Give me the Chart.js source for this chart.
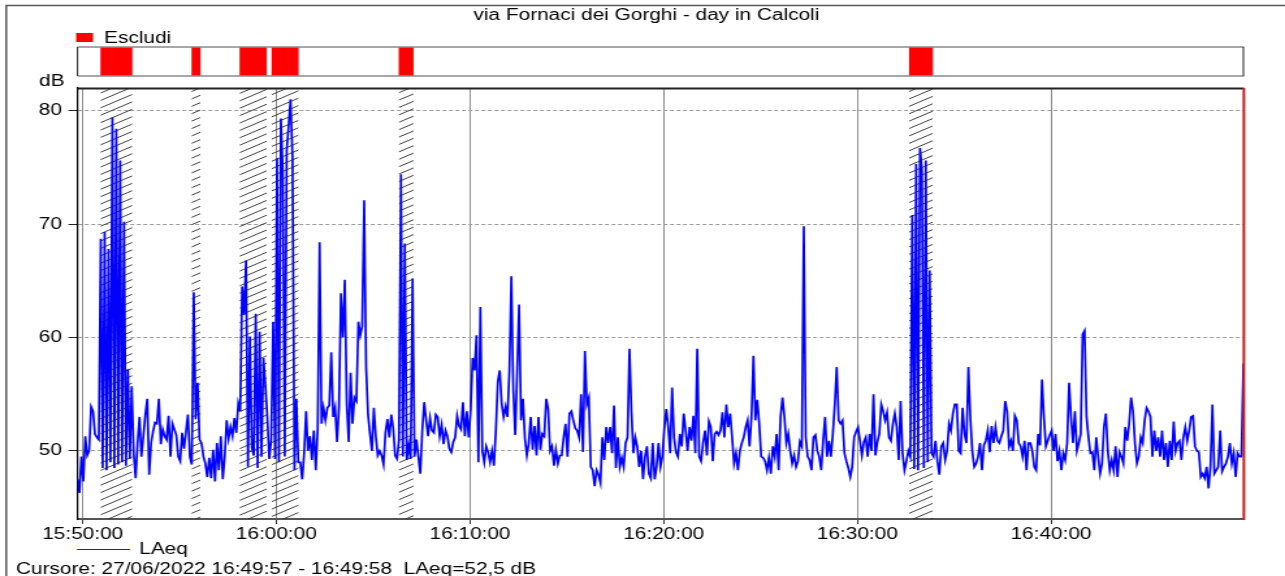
<!DOCTYPE html>
<html>
<head>
<meta charset="utf-8">
<script src="https://cdn.jsdelivr.net/npm/chart.js@4"></script>
<style>
  html, body { margin: 0; padding: 0; background: #fff; overflow: hidden; }
  canvas { display: block; }
</style>
</head>
<body>
<!-- drawn at 988 px and shown at 1285 px, like the wide export of the meter software -->
<canvas id="chart" width="988" height="576" style="width:1285px;height:576px"></canvas>
<script>
// LAeq, one sample every 6 s starting at startTime
const startTime = '15:49:44';
const endTime = '16:49:58';
const stepSeconds = 6;
const laeq = [
  47.5, 46.3, 49.5, 47.3, 51.3, 49.6, 50.0, 53.9, 53.5, 51.5, 51.2, 51.0,
  68.7, 48.5, 69.3, 48.3, 67.8, 49.0, 79.4, 48.5, 78.4, 48.8, 75.6, 49.0, 70.2, 48.7, 57.2, 49.3, 55.7,
  49.8, 47.6, 50.7, 53.0, 49.5, 51.3, 53.2, 54.6, 47.9, 50.7, 51.7, 52.5, 52.4, 54.6, 50.6,
  51.9, 51.3, 51.0, 53.1, 49.5, 52.4, 51.9, 51.4, 49.5, 49.1, 51.6, 50.2, 51.7, 53.2, 49.5,
  48.8, 64.0, 52.8, 56.0, 51.0,
  50.7, 49.5, 48.9, 47.7, 49.4, 47.6, 50.1, 47.3, 50.7, 48.3, 51.3, 47.5, 49.5, 52.7, 51.1, 52.1, 51.3, 52.9, 51.6, 54.2,
  53.5, 64.5, 62.0, 66.8, 48.6, 60.1, 50.3, 49.6, 62.1, 48.5, 60.5, 49.5, 58.2, 55.8,
  53.0, 49.3,
  51.0, 61.4, 49.3, 75.8, 49.0, 79.3, 74.5, 49.5, 76.5, 78.7, 81.0, 75.9, 48.3, 54.6, 49.0,
  49.0, 47.5, 49.8, 53.5, 50.0, 51.3, 49.2, 51.8, 48.3, 51.9,
  68.4, 52.4, 53.8, 52.7, 53.8, 54.0, 58.7, 53.0, 53.8, 50.8,
  53.8, 63.9, 60.0, 65.1, 54.2, 50.8, 56.9, 52.4, 54.7, 54.4,
  61.4, 60.2, 61.0, 72.1, 57.4, 53.2, 51.5, 50.0, 53.8, 51.3,
  49.6, 50.0, 49.6, 48.8, 51.6, 52.8, 51.2, 53.2, 52.0, 49.6, 49.3, 51.0,
  74.4, 49.5, 68.3, 49.2, 50.5, 49.3, 65.2, 49.5,
  51.0, 49.5, 48.0, 51.8, 54.3, 52.7, 51.3, 52.9, 51.8, 51.6, 53.2, 53.0, 51.3, 52.3, 50.6,
  51.8, 51.3, 50.2, 49.9, 50.8, 51.2, 53.1, 52.2, 51.9, 54.3, 51.3, 53.5, 51.2, 53.6,
  58.2, 57.1, 60.2, 49.0, 62.7, 50.0, 49.0, 50.4, 49.9, 49.0,
  50.0, 48.7, 51.8, 56.1, 57.1, 54.2, 53.0, 53.9, 53.0, 57.1,
  65.4, 55.4, 51.4, 57.0, 62.9, 52.7, 54.6, 51.1, 49.6, 50.7,
  53.0, 50.1, 52.2, 49.6, 53.0, 50.1, 51.5, 51.3, 54.6, 53.7,
  50.0, 50.4, 48.7, 50.1, 48.9, 49.6,
  49.6, 51.2, 52.4, 49.5, 53.3, 53.5, 52.7, 52.0, 51.8, 51.2,
  55.0, 49.9, 58.8, 54.1, 54.7, 48.6, 48.3, 46.9, 48.3, 47.9,
  47.2, 51.2, 49.2, 52.1, 50.7, 52.1, 49.8, 54.0, 48.5, 51.2,
  48.6, 49.4, 48.6, 50.7, 51.2, 59.0, 53.5, 49.8, 51.2, 50.4,
  48.6, 50.0, 47.5, 49.5, 50.4, 48.0, 47.6, 50.7, 47.5, 48.6,
  50.7, 48.6, 49.5, 52.0, 53.7, 52.1, 49.8, 55.6, 51.2, 49.9,
  49.5, 51.5, 50.4, 53.3, 51.8, 50.0, 52.1, 50.9, 53.1, 49.8,
  59.0, 49.5, 49.1, 50.7, 51.8, 49.6, 52.6, 52.1, 49.1, 51.5,
  51.7, 51.4, 51.8, 53.4, 51.2, 54.1, 52.1, 53.3, 51.2, 48.9,
  49.8, 48.3, 50.0, 50.7, 51.2, 52.1, 52.7, 50.4, 53.0, 58.4,
  52.7, 54.5, 52.4, 49.5, 49.4, 49.1, 48.3, 49.4, 48.0, 50.4,
  49.5, 51.5, 48.3, 53.0, 54.7, 53.0, 50.7, 51.5, 50.0, 48.9,
  49.6, 48.6, 49.1, 50.8, 50.4, 69.8, 51.2, 49.5, 49.2, 48.3,
  51.2, 51.4, 50.0, 49.5, 48.3, 50.9, 53.0, 49.5, 50.9, 49.5,
  51.5, 54.1, 57.4, 52.7, 52.4, 52.7, 49.8, 49.1, 48.5, 47.7,
  48.6, 51.2, 51.7, 52.1, 50.9, 49.6, 50.8, 51.2, 49.5, 51.5,
  50.0, 55.0, 49.6, 50.8, 51.5, 54.1, 53.5, 52.7, 53.4, 51.2,
  50.9, 52.4, 53.3, 52.1, 49.2, 54.4, 49.8, 48.3, 49.1, 50.0,
  49.5, 70.8, 48.4, 75.3, 48.3, 76.7, 74.8, 48.5, 75.6, 49.0, 65.9, 49.8,
  49.5, 50.9, 49.1, 47.9, 50.4, 50.7, 49.2, 50.0, 52.4, 51.8,
  53.3, 54.1, 54.1, 50.0, 49.8, 53.8, 51.5, 50.7, 57.4, 53.0,
  50.0, 48.6, 48.9, 49.5, 50.7, 48.3, 50.5, 50.9, 51.8, 49.9,
  52.2, 50.7, 52.1, 50.9, 50.7, 51.3, 51.8, 54.4, 53.5, 50.4,
  50.9, 50.0, 53.1, 52.7, 50.7, 50.4, 49.5, 50.9, 48.3, 50.7,
  50.7, 50.0, 48.6, 48.3, 51.5, 50.5, 56.3, 53.0, 50.4, 50.9,
  51.4, 51.8, 50.0, 51.5, 49.1, 50.0, 48.3, 49.8, 49.2, 50.7,
  56.0, 53.0, 50.7, 53.5, 50.0, 50.7, 51.5, 60.3, 60.6, 53.0,
  51.2, 49.8, 49.9, 48.3, 51.2, 49.5, 48.0, 48.9, 52.1, 53.3,
  50.0, 48.3, 49.2, 48.3, 50.4, 47.7, 49.9, 49.5, 48.9, 52.1,
  50.9, 52.4, 54.7, 53.5, 50.7, 48.9, 49.5, 51.2, 50.7, 52.7,
  53.8, 53.5, 53.0, 49.5, 51.8, 50.0, 51.2, 49.5, 51.8, 49.2,
  50.7, 48.6, 50.9, 49.2, 52.6, 50.0, 50.7, 50.9, 49.2, 51.2,
  52.1, 50.9, 51.8, 53.0, 53.1, 50.4, 50.0, 49.9, 47.7, 48.0,
  47.6, 48.6, 46.7, 48.6, 54.1, 48.0, 48.3, 48.6, 51.8, 48.2,
  48.6, 48.9, 49.5, 50.7, 48.9, 49.8, 47.7, 49.8, 49.5, 49.5, 57.7
];

// intervals marked "Escludi"
const excludeFrom = ['15:50:55', '15:55:37', '15:58:06', '15:59:45', '16:06:19', '16:32:40'];
const excludeTo   = ['15:52:34', '15:56:05', '15:59:30', '16:01:09', '16:07:05', '16:33:54'];

const yTicks = [50, 60, 70, 80];
const xTicks = ['15:50:00', '16:00:00', '16:10:00', '16:20:00', '16:30:00', '16:40:00'];

const cursorDate = '27/06/2022';
const cursorFrom = '16:49:57';
const cursorTo = '16:49:58';
const cursorValue = '52,5';

const FONT_FAMILY = "'Liberation Sans', Arial, sans-serif";
const FONT = '16px ' + FONT_FAMILY;

function toSec(s) {
  const [h, m, sec] = s.split(':').map(Number);
  return h * 3600 + m * 60 + sec;
}
function fmtTime(t) {
  const p = n => String(n).padStart(2, '0');
  return p(Math.floor(t / 3600)) + ':' + p(Math.floor(t / 60) % 60) + ':' + p(t % 60);
}

const t0 = toSec(startTime);
const points = laeq.map((v, i) => ({ x: t0 + i * stepSeconds, y: v }));

const HATCH_SLOPE = 0.55;
const HATCH_GAP = 7.4;

const decor = {
  id: 'decor',
  beforeDatasetsDraw(chart) {
    const { ctx, chartArea: a, scales: { x } } = chart;
    // hatching over the excluded periods
    ctx.save();
    ctx.strokeStyle = '#2b2b2b';
    ctx.lineWidth = 0.9;
    excludeFrom.forEach((from, i) => {
      const x0 = x.getPixelForValue(toSec(from));
      const x1 = x.getPixelForValue(toSec(excludeTo[i]));
      ctx.save();
      ctx.beginPath();
      ctx.rect(x0, a.top, x1 - x0, a.bottom - a.top);
      ctx.clip();
      ctx.beginPath();
      const cStart = a.top + Math.floor(HATCH_SLOPE * (x0 - a.left) / HATCH_GAP) * HATCH_GAP;
      const cEnd = a.bottom + HATCH_SLOPE * (x1 - a.left) + HATCH_GAP;
      for (let c = cStart; c <= cEnd; c += HATCH_GAP) {
        ctx.moveTo(x0, c - HATCH_SLOPE * (x0 - a.left));
        ctx.lineTo(x1, c - HATCH_SLOPE * (x1 - a.left));
      }
      ctx.stroke();
      ctx.restore();
    });
    ctx.restore();
  },
  afterDraw(chart) {
    const { ctx, chartArea: a, scales: { x } } = chart;
    ctx.save();

    // top edge of the plot
    ctx.strokeStyle = '#222';
    ctx.lineWidth = 2;
    ctx.beginPath();
    ctx.moveTo(a.left, a.top + 0.5);
    ctx.lineTo(a.right, a.top + 0.5);
    ctx.stroke();

    // cursor
    const cx = x.getPixelForValue(toSec(cursorFrom) + 0.5);
    ctx.strokeStyle = '#c82020';
    ctx.lineWidth = 2;
    ctx.beginPath();
    ctx.moveTo(cx, a.top);
    ctx.lineTo(cx, a.bottom + 1);
    ctx.stroke();

    // exclusion strip above the plot
    const sTop = 47, sBot = 76;
    ctx.fillStyle = '#ff0000';
    excludeFrom.forEach((from, i) => {
      const x0 = x.getPixelForValue(toSec(from));
      const x1 = x.getPixelForValue(toSec(excludeTo[i]));
      ctx.fillRect(x0, sTop, x1 - x0, sBot - sTop);
    });
    ctx.lineWidth = 1.5;
    ctx.strokeStyle = '#8a8a8a';
    ctx.beginPath();
    ctx.moveTo(a.left, sTop); ctx.lineTo(a.right, sTop);
    ctx.moveTo(a.left, sBot); ctx.lineTo(a.right, sBot);
    ctx.stroke();
    ctx.strokeStyle = '#222';
    ctx.lineWidth = 1;
    ctx.beginPath();
    ctx.moveTo(a.left, sTop); ctx.lineTo(a.left, sBot);
    ctx.moveTo(a.right - 0.5, sTop); ctx.lineTo(a.right - 0.5, sBot);
    ctx.stroke();

    ctx.font = FONT;
    ctx.fillStyle = '#000';
    ctx.textBaseline = 'middle';

    // title
    ctx.textAlign = 'center';
    ctx.fillText('via Fornaci dei Gorghi - day in Calcoli', 497, 15.5);

    // legend of the strip
    ctx.textAlign = 'left';
    ctx.fillStyle = '#ff0000';
    ctx.fillRect(58.5, 33, 13, 9);
    ctx.fillStyle = '#000';
    ctx.fillText('Escludi', 80, 39);

    // unit
    ctx.fillText('dB', 30, 82);

    // series legend
    ctx.strokeStyle = '#1a1aff';
    ctx.lineWidth = 1.2;
    ctx.beginPath();
    ctx.moveTo(59.2, 549.5);
    ctx.lineTo(100, 549.5);
    ctx.stroke();
    ctx.fillText('LAeq', 107, 550);

    // cursor readout
    ctx.fillText('Cursore: ' + cursorDate + ' ' + cursorFrom + ' - ' + cursorTo + '  LAeq=' + cursorValue + ' dB', 12.3, 569.5);

    // outer frame
    ctx.strokeStyle = '#555';
    ctx.lineWidth = 1.5;
    ctx.beginPath();
    ctx.moveTo(chart.width, 5.5);
    ctx.lineTo(4.8, 5.5);
    ctx.lineTo(4.8, chart.height);
    ctx.stroke();

    ctx.restore();
  }
};

new Chart(document.getElementById('chart').getContext('2d'), {
  type: 'line',
  data: {
    datasets: [{
      label: 'LAeq',
      data: points,
      borderColor: '#0000ff',
      borderWidth: 1.7,
      pointRadius: 0,
      tension: 0,
      fill: false
    }]
  },
  options: {
    responsive: false,
    animation: false,
    events: [],
    parsing: false,
    layout: { padding: { top: 88, right: 31.5, left: 0, bottom: 0 } },
    plugins: { legend: { display: false }, title: { display: false }, tooltip: { enabled: false } },
    scales: {
      x: {
        type: 'linear',
        min: t0,
        max: toSec(endTime),
        afterBuildTicks: s => { s.ticks = xTicks.map(v => ({ value: toSec(v) })); },
        afterFit: s => { s.height = 57; },
        ticks: {
          autoSkip: false,
          maxRotation: 0,
          padding: 1,
          color: '#000',
          font: { family: FONT_FAMILY, size: 16 },
          callback: v => fmtTime(v)
        },
        grid: { color: '#8a8a8a', lineWidth: 1, tickColor: '#333', tickLength: 5 },
        border: { color: '#555', width: 2 }
      },
      y: {
        min: 44,
        max: 82,
        afterBuildTicks: s => { s.ticks = yTicks.map(v => ({ value: v })); },
        afterFit: s => { s.width = 59.6; },
        ticks: {
          padding: 5,
          color: '#000',
          font: { family: FONT_FAMILY, size: 16 }
        },
        grid: { color: '#9a9a9a', lineWidth: 1, tickColor: '#222', tickLength: 7 },
        border: { color: '#000', width: 1.2, dash: [3, 2] }
      }
    }
  },
  plugins: [decor]
});
</script>
</body>
</html>
